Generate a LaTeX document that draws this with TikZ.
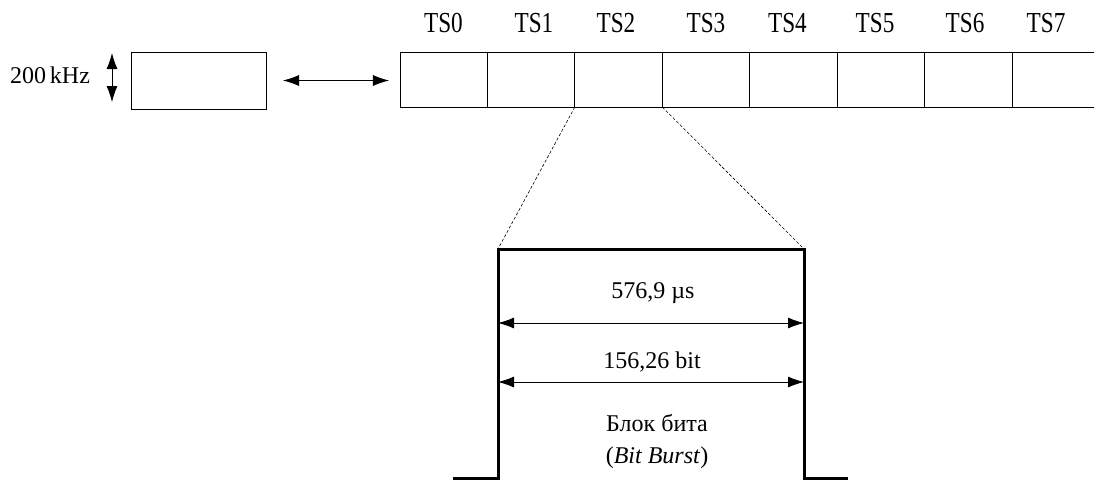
\documentclass[tikz,border=0pt]{standalone}
\usepackage{fontspec}
\setmainfont{Liberation Serif}
\newfontfamily\tsfont[FakeStretch=0.8]{Liberation Serif}
\usetikzlibrary{arrows.meta}
\begin{document}
\begin{tikzpicture}[x=1pt,y=-1pt,line width=.8pt,
	every node/.style={font=\fontsize{24}{32}\selectfont,inner sep=0pt},
	slot/.style={draw,minimum width=87.43pt,minimum height=55pt,outer sep=0pt},
	dim/.style={{Latex[length=16pt,width=11pt]}-{Latex[length=16pt,width=11pt]}},
	pulse/.style={line width=3pt}]
		\useasboundingbox(0,0)rectangle(1094,479);
		\coordinate(B1)at(112,53);
		\coordinate(B2)at(112,102);
		\coordinate(P1)at(453,478);
		\coordinate(P2)at(498,478);
		\coordinate(P3)at(498,249);
		\coordinate(P4)at(804,249);
		\coordinate(P5)at(804,478);
		\coordinate(P6)at(848,478);
		\coordinate(D1)at(498,323);
		\coordinate(D2)at(804,323);
		\coordinate(E1)at(498,382);
		\coordinate(E2)at(804,382);
		%carrier and frame
		\node[slot,minimum width=135pt,minimum height=57pt](carrier)at(198.5,80.5){};
		\foreach\i in{0,...,7}{\node[slot](TS\i)at({443.7+87.43*\i},79.5){};}
		\foreach\i/\x in{0/443.5,1/534,2/616,3/706,4/787.5,5/875,6/965,7/1046}{\node[font=\fontsize{29}{32}\tsfont](lbl\i)at(\x,23){TS\i};}
		\node(bw)at(50,75){200\,kHz};
		\draw[dim](B1)--(B2);
		\draw[dim]([xshift=17pt]carrier.east)--([xshift=-11pt]TS0.west|-carrier.east);
		%burst
		\draw[dashed,dash pattern=on 3pt off 2pt,line width=.6pt](TS1.south east)--(P3);
		\draw[dashed,dash pattern=on 3pt off 2pt,line width=.6pt](TS2.south east)--(P4);
		\draw[pulse](P1)--(P2)--(P3)--(P4)--(P5)--(P6);
		\node(dur)at(653,293){576,9 µs};
		\draw[dim](D1)--(D2);
		\node(bits)at(652,362){156,26 bit};
		\draw[dim](E1)--(E2);
		\node[align=center](burst)at(657,441){Блок бита\\(\textit{Bit Burst})};
	\end{tikzpicture}
\end{document}
